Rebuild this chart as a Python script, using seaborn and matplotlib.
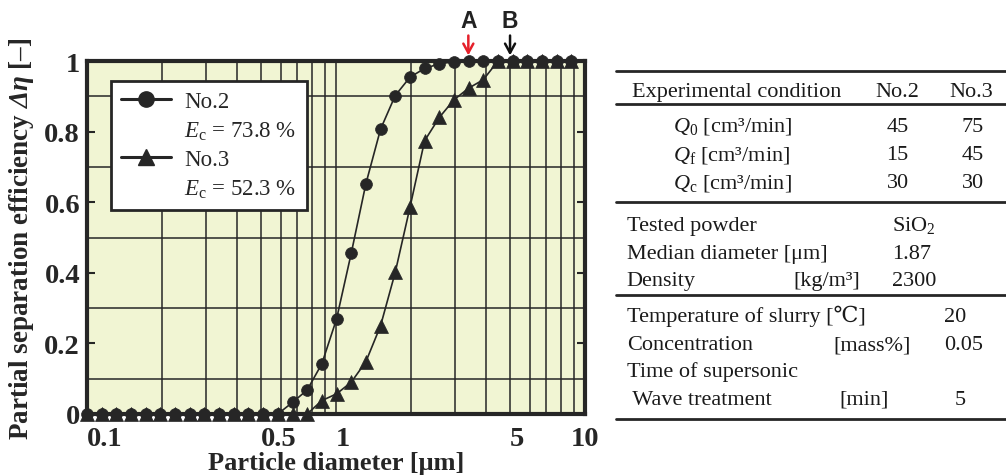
import matplotlib
matplotlib.use("Agg")
import matplotlib.pyplot as plt
from matplotlib.lines import Line2D
import seaborn as sns
import pandas as pd

# ---------------- data ----------------
diameter = [0.100, 0.115, 0.131, 0.150, 0.172, 0.197, 0.226, 0.259, 0.296, 0.339,
            0.389, 0.445, 0.510, 0.584, 0.669, 0.766, 0.877, 1.005, 1.151, 1.318,
            1.510, 1.729, 1.981, 2.269, 2.599, 2.976, 3.409, 3.905, 4.472, 5.122,
            5.867, 6.720, 7.697, 8.816]
eff_no2 = [0, 0, 0, 0, 0, 0, 0, 0, 0, 0,
           0, 0, 0, 0, 0.033, 0.068, 0.142, 0.269, 0.455, 0.652,
           0.807, 0.902, 0.954, 0.979, 0.992, 0.998, 1.0, 1.0, 1.0, 1.0,
           1.0, 1.0, 1.0, 1.0]
eff_no3 = [0, 0, 0, 0, 0, 0, 0, 0, 0, 0,
           0, 0, 0, 0, 0, 0, 0.038, 0.057, 0.090, 0.148,
           0.250, 0.401, 0.585, 0.774, 0.840, 0.890, 0.923, 0.947, 1.0, 1.0,
           1.0, 1.0, 1.0, 1.0]
series_names = ["No.2", "No.3"]
ec_values = ["73.8", "52.3"]
x_tick_values = [0.1, 0.5, 1, 5, 10]
x_tick_labels = ["0.1", "0.5", "1", "5", "10"]
y_tick_values = [0, 0.2, 0.4, 0.6, 0.8, 1.0]
y_tick_labels = ["0", "0.2", "0.4", "0.6", "0.8", "1"]
arrow_labels = ["A", "B"]
arrow_positions = [3.4, 5.0]

cond_header = ["Experimental condition", "No.2", "No.3"]
cond_labels = [r"$Q_0$ [cm³/min]", r"$Q_\mathrm{f}$ [cm³/min]", r"$Q_\mathrm{c}$ [cm³/min]"]
cond_no2 = ["45", "15", "30"]
cond_no3 = ["75", "45", "30"]
powder_labels = ["Tested powder", "Median diameter [μm]", "Density"]
powder_units = ["", "", "[kg/m³]"]
powder_values = [r"SiO$_2$", "1.87", "2300"]
slurry_labels = ["Temperature of slurry [℃]", "Concentration", "Time of supersonic", " Wave treatment"]
slurry_units = ["", "[mass%]", "", "[min]"]
slurry_values = ["20", "0.05", "", "5"]

# ---------------- style ----------------
sns.set_theme(style="white")
plt.rcParams["font.family"] = ["Liberation Serif", "DejaVu Serif", "Noto Sans CJK JP"]
plt.rcParams["mathtext.fontset"] = "custom"
plt.rcParams["mathtext.rm"] = "Liberation Serif"
plt.rcParams["mathtext.it"] = "Liberation Serif:italic"
plt.rcParams["mathtext.bf"] = "Liberation Serif:bold"
plt.rcParams["mathtext.bfit"] = "Liberation Serif:italic:bold"

INK = "#262626"
W, H = 1006, 477
fig = plt.figure(figsize=(W / 100, H / 100), dpi=100)
ax = fig.add_axes([87 / W, (H - 415) / H, 498 / W, 353 / H])
ax.set_facecolor("#F1F5D3")

df = pd.DataFrame({
    "d": diameter * 2,
    "eta": eff_no2 + eff_no3,
    "run": [series_names[0]] * len(diameter) + [series_names[1]] * len(diameter),
})
sns.lineplot(data=df, x="d", y="eta", style="run",
             markers={series_names[0]: "o", series_names[1]: "^"},
             dashes=False, color=INK, markersize=8, linewidth=1.2,
             markeredgecolor=INK, markeredgewidth=0.5,
             legend=False, sort=False, ax=ax)
ms = {0: 8.5, 1: 9.5}
for i, ln in enumerate(ax.lines):
    ln.set_clip_on(False)
    ln.set_zorder(5 + i)
    ln.set_markersize(ms.get(i, 8))

ax.set_xscale("log")
ax.set_xlim(0.1, 10)
ax.set_ylim(0, 1)

# grid: vertical at every 1-9 multiple, horizontal at odd tenths
ax.set_xticks(x_tick_values)
ax.set_xticklabels(x_tick_labels)
ax.set_xticks([0.2, 0.3, 0.4, 0.6, 0.7, 0.8, 0.9, 2, 3, 4, 6, 7, 8, 9], minor=True)
ax.xaxis.set_minor_formatter(plt.NullFormatter())
ax.set_yticks(y_tick_values)
ax.set_yticklabels(y_tick_labels)
ax.set_yticks([0.1, 0.3, 0.5, 0.7, 0.9], minor=True)
ax.grid(False)
ax.grid(True, axis="x", which="both", color=INK, linewidth=1.1)
ax.grid(True, axis="y", which="minor", color=INK, linewidth=1.1)
ax.set_axisbelow(True)

ax.tick_params(axis="x", which="both", length=0, pad=9, labelsize=20.5)
ax.tick_params(axis="y", which="major", direction="in", length=6, width=1.5,
               left=True, right=True, color=INK, pad=5, labelsize=20.5)
ax.tick_params(axis="y", which="minor", length=0)
for lab in ax.get_xticklabels() + ax.get_yticklabels():
    lab.set_fontweight("bold")
for lab, txt in zip(ax.get_xticklabels(), x_tick_labels):
    lab.set_ha("center" if txt == "10" else "left")

for sp in ax.spines.values():
    sp.set_linewidth(3)
    sp.set_color(INK)
    sp.set_zorder(4)

ax.set_xlabel("Particle diameter [μm]", fontsize=19, fontweight="bold", labelpad=0)
ax.set_ylabel(r"Partial separation efficiency $\mathbfit{Δη}$ [–]", fontsize=19.5,
              fontweight="bold", labelpad=6)

# legend
blank = Line2D([], [], linestyle="none", marker=None)
h2 = Line2D([], [], color=INK, marker="o", markersize=11, linewidth=2.2)
h3 = Line2D([], [], color=INK, marker="^", markersize=12, linewidth=2.2)
leg = ax.legend([h2, blank, h3, blank],
                [series_names[0], r"$E_\mathrm{c}$ = %s %%" % ec_values[0],
                 series_names[1], r"$E_\mathrm{c}$ = %s %%" % ec_values[1]],
                loc="upper left", bbox_to_anchor=(0.0476, 0.944), borderaxespad=0,
                fontsize=16.5, frameon=True, fancybox=False, framealpha=1,
                edgecolor=INK, facecolor="white", handlelength=2.2,
                handletextpad=0.55, labelspacing=0.32, borderpad=0.45)
leg.get_frame().set_linewidth(2)
leg.set_zorder(10)

# arrows A, B
arrow_colors = ["#E5202A", "#111111"]
for lab, xp, c in zip(arrow_labels, arrow_positions, arrow_colors):
    ax.annotate("", xy=(xp, 1.008), xytext=(xp, 1.08), xycoords="data",
                arrowprops=dict(arrowstyle="->,head_length=0.55,head_width=0.3",
                                color=c, lw=1.8), annotation_clip=False)
    ax.text(xp, 1.116, lab, ha="center", va="center", fontsize=16.5,
            fontweight="bold", family="Liberation Sans", color="#222222")

# ---------------- table ----------------
def fx(x):
    return x / W

def fy(y):
    return 1 - y / H

def put(x, y, s, ha="left"):
    fig.text(fx(x), fy(y), s, ha=ha, va="baseline", fontsize=16, color="#1a1a1a")

for yl in [71.7, 105, 203.3, 296, 420]:
    fig.add_artist(Line2D([fx(616), 1.0], [fy(yl), fy(yl)], transform=fig.transFigure,
                          color=INK, linewidth=2))

put(631.7, 96.7, cond_header[0])
put(897.7, 96.7, cond_header[1], ha="center")
put(971.7, 96.7, cond_header[2], ha="center")
for yb, lab, v2, v3 in zip([131.7, 160, 188.3], cond_labels, cond_no2, cond_no3):
    put(673, yb, lab)
    put(897.5, yb, v2, ha="center")
    put(973, yb, v3, ha="center")

for yb, lab, un, val in zip([230.7, 259, 285.7], powder_labels, powder_units, powder_values):
    put(626.7, yb, lab)
    if un:
        put(793.3, yb, un)
    put(892, yb, val)

slurry_unit_x = [0, 833.3, 0, 839.3]
slurry_val_x = [955, 963.3, 0, 960]
for yb, lab, un, val, ux, vx in zip([322.3, 350, 376.7, 405], slurry_labels, slurry_units,
                                    slurry_values, slurry_unit_x, slurry_val_x):
    put(626.7, yb, lab)
    if un:
        put(ux, yb, un)
    if val:
        put(vx, yb, val, ha="center")

fig.savefig("out.png", dpi=100)
